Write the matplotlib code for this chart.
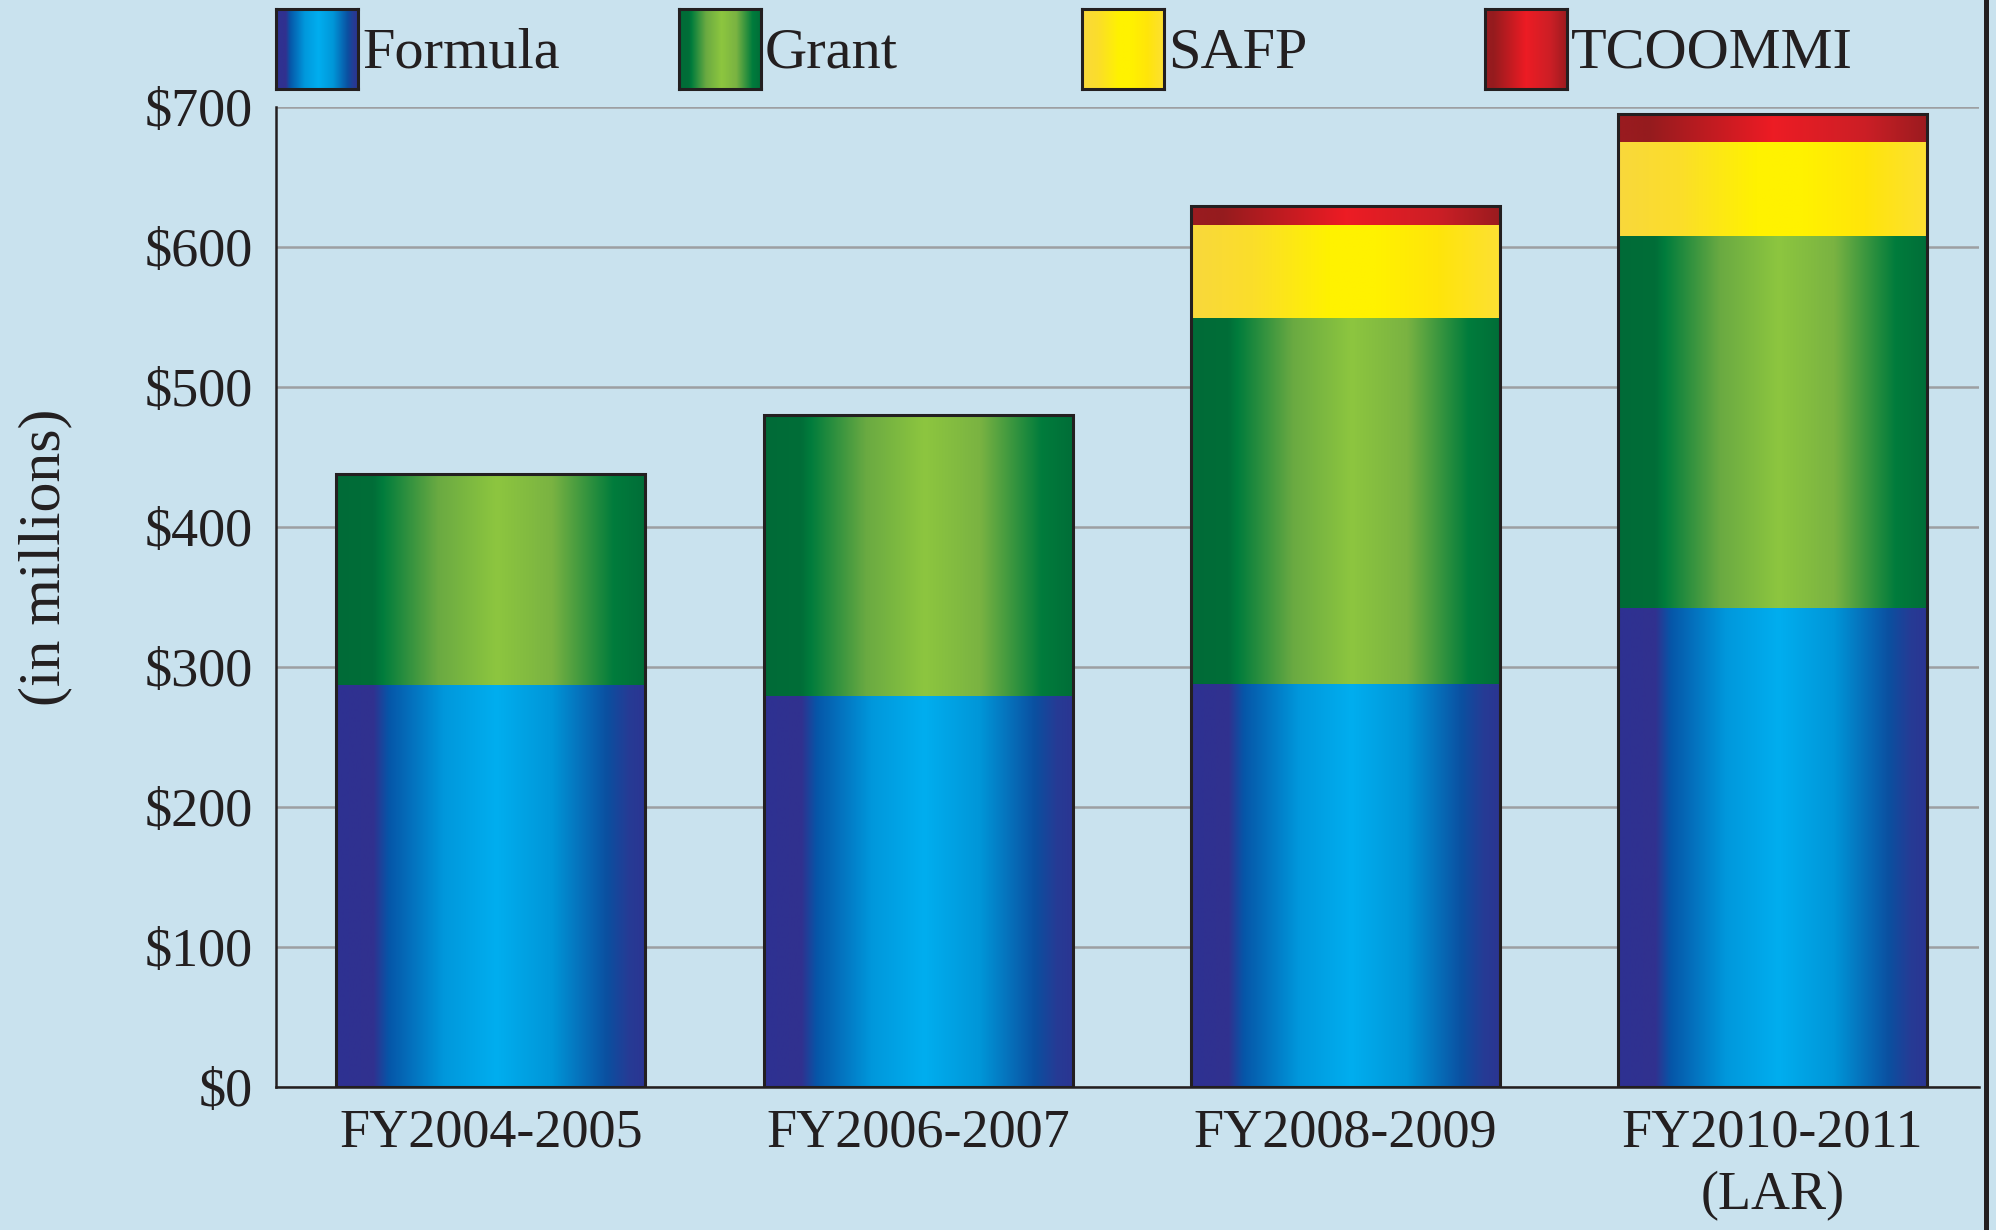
import numpy as np
import matplotlib
matplotlib.use("Agg")
import matplotlib.pyplot as plt
from matplotlib.colors import LinearSegmentedColormap
from matplotlib.patches import Rectangle
from matplotlib.lines import Line2D

# values in $ millions
categories = ["FY2004-2005", "FY2006-2007", "FY2008-2009", "FY2010-2011\n(LAR)"]
formula = [287, 279, 288, 342]
grant = [151, 201, 261, 266]
safp = [0, 0, 67, 67]
tcoommi = [0, 0, 13, 20]
series_names = ["Formula", "Grant", "SAFP", "TCOOMMI"]
yticks = [0, 100, 200, 300, 400, 500, 600, 700]

bg = "#c9e2ee"
ink = "#231f20"

# horizontal colour ramps (left -> right across a bar)
stops = {
    "Formula": [(0, "#2e3192"), (0.12, "#31318f"), (0.17, "#0656a8"), (0.35, "#0098dc"),
                (0.52, "#00aeef"), (0.70, "#0096d8"), (0.88, "#0b4fa0"), (0.95, "#263b95"), (1, "#2b3592")],
    "Grant": [(0, "#006b37"), (0.12, "#006e38"), (0.15, "#007c3c"), (0.33, "#6aaa42"),
              (0.52, "#8dc63f"), (0.70, "#7ab342"), (0.90, "#007c3c"), (1, "#006e38")],
    "SAFP": [(0, "#f9d83c"), (0.2, "#fbde2a"), (0.45, "#fff200"), (0.6, "#fff200"),
             (0.8, "#ffe50a"), (1, "#fde033")],
    "TCOOMMI": [(0, "#9a1b20"), (0.1, "#951b1e"), (0.5, "#ed1c24"), (0.8, "#cc1f26"), (1, "#9b1b1f")],
}
cmaps = {k: LinearSegmentedColormap.from_list(k, v) for k, v in stops.items()}
grad = np.linspace(0, 1, 256).reshape(1, -1)

W, H = 1996, 1230
fig = plt.figure(figsize=(W / 100, H / 100), dpi=100, facecolor=bg)
ax = fig.add_axes([276 / W, 1 - 1087 / H, (1979 - 276) / W, (1087 - 107) / H], facecolor=bg)

x = np.arange(len(categories))
width = 0.723
data = [formula, grant, safp, tcoommi]
for i in x:
    bottom = 0
    for name, vals in zip(series_names, data):
        v = vals[i]
        if v > 0:
            ax.imshow(grad, cmap=cmaps[name], aspect="auto", interpolation="bilinear",
                      extent=[i - width / 2, i + width / 2, bottom, bottom + v], zorder=2)
        bottom += v
    ax.add_patch(Rectangle((i - width / 2, 0), width, bottom, fill=False,
                           ec=ink, lw=2.2, zorder=3))

ax.set_xlim(-0.503, 3.483)
ax.set_ylim(0, 700)
ax.set_xticks(x)
ax.set_xticklabels(categories, fontsize=39, color=ink, family="Liberation Serif", linespacing=1.33)
ax.set_yticks(yticks)
ax.set_yticklabels(["$%d" % v for v in yticks], fontsize=39, color=ink, family="Liberation Serif")
ax.tick_params(axis="y", length=0, pad=17)
ax.tick_params(axis="x", length=0, pad=15)
ax.yaxis.grid(True, color="#9d9fa2", lw=1.8)
ax.set_axisbelow(True)
for s in ["top", "right"]:
    ax.spines[s].set_visible(False)
for s in ["left", "bottom"]:
    ax.spines[s].set_color(ink)
    ax.spines[s].set_linewidth(1.8)

fig.text(45 / W, 1 - 557 / H, "(in millions)", rotation=90, ha="center", va="center",
         fontsize=43, color=ink, family="Liberation Serif")

# legend row along the top
for k, name in enumerate(series_names):
    left = 276 + 403 * k
    sw = fig.add_axes([left / W, 1 - 89 / H, 82 / W, 80 / H])
    sw.imshow(grad, cmap=cmaps[name], aspect="auto", interpolation="bilinear")
    sw.set_xticks([])
    sw.set_yticks([])
    for sp in sw.spines.values():
        sp.set_color(ink)
        sp.set_linewidth(2.2)
    fig.text((left + 86) / W, 1 - 67 / H, name, ha="left", va="baseline",
             fontsize=42, color=ink, family="Liberation Serif")

# frame line at the right edge of the page
fig.add_artist(Line2D([1985.5 / W, 1985.5 / W], [0, 1], color=ink, lw=3.6))

fig.savefig("out.png", dpi=100, facecolor=bg)
